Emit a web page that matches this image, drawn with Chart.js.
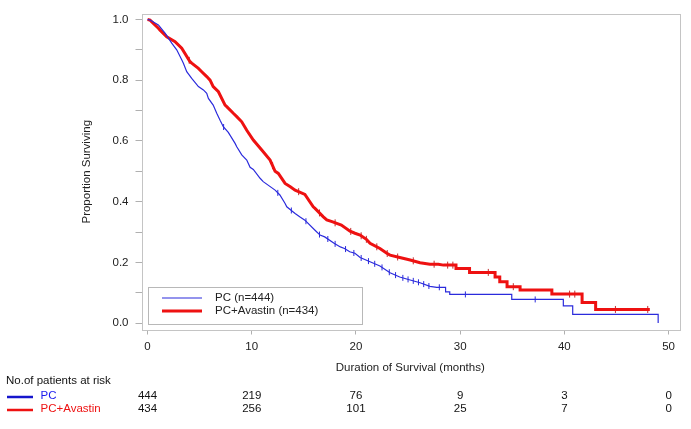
<!DOCTYPE html>
<html>
<head>
<meta charset="utf-8">
<script src="https://cdn.jsdelivr.net/npm/chart.js@4"></script>
<style>
html, body { margin: 0; padding: 0; background: #fff; }
#survChart { display: block; }
</style>
</head>
<body>
<canvas id="survChart" width="691" height="429"></canvas>
<script>
// Kaplan-Meier curves (a repeated time = vertical drop)
var pcTime = [0, 0.24, 1.04, 1.68, 2.32, 2.8, 3.28, 3.44, 3.76, 4.24, 4.88, 5.36, 5.68, 5.84, 6.3, 6.64, 6.96, 7.27, 7.75,
    8.4, 8.56, 9.04, 9.52, 9.84, 10.15, 10.8, 11.1, 12.24, 12.7, 13.2, 13.36, 14.16, 14.6, 15.1, 16.07, 16.55, 17.0,
    17.9, 18.5, 18.9, 19.4, 19.9, 20.4, 21.35, 22.3, 23.27, 24.2, 25.2, 26.15, 27.1, 27.75, 28.6, 28.6, 29.0, 29.0,
    34.95, 34.95, 39.9, 39.9, 40.8, 40.8, 49.0, 49.0];
var pcSurv = [1, 0.998, 0.982, 0.955, 0.922, 0.9, 0.867, 0.856, 0.828, 0.806, 0.779, 0.768, 0.757, 0.74, 0.718, 0.691, 0.668, 0.647, 0.628,
    0.592, 0.581, 0.554, 0.537, 0.513, 0.506, 0.477, 0.466, 0.438, 0.422, 0.394, 0.383, 0.361, 0.35, 0.339, 0.306, 0.29, 0.284,
    0.263, 0.251, 0.246, 0.235, 0.23, 0.216, 0.202, 0.188, 0.166, 0.152, 0.142, 0.133, 0.121, 0.118, 0.118, 0.103, 0.103, 0.0945,
    0.0945, 0.078, 0.078, 0.057, 0.057, 0.029, 0.029, 0];
var pcCensor = [7.3, 12.5, 13.8, 15.2, 16.5, 17.3, 18, 19, 19.8, 20.5, 21.2, 21.8, 22.5, 23.2, 23.8, 24.5,
    25, 25.5, 26, 26.5, 27, 28, 30.5, 37.2];

var avTime = [0, 0.24, 1.04, 1.2, 1.84, 2.64, 3.28, 4.08, 4.24, 4.88, 5.2, 5.68, 6.0, 6.3, 6.8, 7.44, 7.6, 8.23, 8.56,
    9.04, 9.52, 10.15, 10.96, 11.76, 12.24, 12.55, 13.2, 13.7, 14.16, 15.1, 15.9, 16.07, 16.87, 17.2, 17.7, 18.6,
    19.43, 19.9, 20.4, 21.0, 21.35, 22.3, 22.96, 23.27, 24.2, 25.2, 26.15, 27.1, 27.9, 28.4, 29.6, 29.6, 30.9, 30.9,
    33.35, 33.35, 33.8, 33.8, 34.5, 34.5, 35.75, 35.75, 38.8, 38.8, 41.7, 41.7, 43.0, 43.0, 48.2];
var avSurv = [1, 0.998, 0.971, 0.965, 0.943, 0.927, 0.905, 0.861, 0.856, 0.839, 0.828, 0.812, 0.8, 0.779, 0.762, 0.718, 0.713, 0.691, 0.68,
    0.663, 0.635, 0.603, 0.57, 0.537, 0.5, 0.493, 0.46, 0.449, 0.438, 0.424, 0.383, 0.378, 0.35, 0.34, 0.334, 0.323,
    0.303, 0.296, 0.29, 0.276, 0.263, 0.246, 0.23, 0.224, 0.216, 0.208, 0.199, 0.194, 0.194, 0.191, 0.191, 0.18, 0.18, 0.167,
    0.167, 0.152, 0.152, 0.136, 0.136, 0.12, 0.12, 0.109, 0.109, 0.0955, 0.0955, 0.068, 0.068, 0.045, 0.045];
var avCensor = [4, 12, 14.5, 16.5, 18, 19.5, 20.5, 21, 22, 23, 24, 25.5, 27.5, 28.8, 29.3, 32.7, 35.1,
    40.5, 41, 44.9, 48];

var xTicks = [0, 10, 20, 30, 40, 50];
var yTicks = [0, 0.1, 0.2, 0.3, 0.4, 0.5, 0.6, 0.7, 0.8, 0.9, 1.0];

// patients at risk table
var riskTimes = [0, 10, 20, 30, 40, 50];
var riskPC = [444, 219, 76, 9, 3, 0];
var riskAv = [434, 256, 101, 25, 7, 0];

var seriesNames = ['PC (n=444)', 'PC+Avastin (n=434)'];
var riskNames = ['PC', 'PC+Avastin'];

var FONT = '"Liberation Sans", Arial, sans-serif';
var BLUE = '#2b2bdc';
var RED = '#ee1111';

var toPoints = function (times, surv) {
    return times.map(function (t, i) { return { x: t, y: surv[i] }; });
};

// value of the traced curve at time t (last drop wins at a repeated time)
var survAt = function (times, surv, t) {
    var s = surv[0];
    for (var i = 0; i < times.length - 1; i++) {
        if (t >= times[i] && t <= times[i + 1]) {
            if (times[i + 1] === times[i]) { return surv[i + 1]; }
            var f = (t - times[i]) / (times[i + 1] - times[i]);
            return surv[i] + f * (surv[i + 1] - surv[i]);
        }
        if (times[i] <= t) { s = surv[i]; }
    }
    return s;
};

var censorPoints = function (censor, times, surv) {
    return censor.map(function (t) { return { x: t, y: survAt(times, surv, t) }; });
};

var framePlugin = {
    id: 'frame',
    beforeDatasetsDraw: function (chart) {
        var a = chart.chartArea;
        var ctx = chart.ctx;
        ctx.save();
        ctx.strokeStyle = '#c4c4c4';
        ctx.lineWidth = 1;
        ctx.strokeRect(Math.round(a.left) + 0.5, Math.round(a.top) + 0.5,
            Math.round(a.right - a.left), Math.round(a.bottom - a.top));
        ctx.restore();
    }
};

var legendPlugin = {
    id: 'kmLegend',
    afterDatasetsDraw: function (chart) {
        var a = chart.chartArea;
        var ctx = chart.ctx;
        var left = a.left + 6.5;
        var bottom = a.bottom - 5.5;
        var top = bottom - 37;
        ctx.save();
        ctx.fillStyle = '#fff';
        ctx.fillRect(left, top, 214.5, 37);
        ctx.strokeStyle = '#b8b8b8';
        ctx.lineWidth = 1;
        ctx.strokeRect(Math.round(left) + 0.5, Math.round(top) + 0.5, 214, 37);
        ctx.font = '11.5px ' + FONT;
        ctx.textBaseline = 'middle';
        ctx.fillStyle = '#222';
        var rows = [
            { y: top + 11, color: BLUE, width: 1.2 },
            { y: top + 24, color: RED, width: 3 }
        ];
        rows.forEach(function (r, i) {
            ctx.strokeStyle = r.color;
            ctx.lineWidth = r.width;
            ctx.beginPath();
            ctx.moveTo(left + 14, r.y);
            ctx.lineTo(left + 54, r.y);
            ctx.stroke();
            ctx.fillText(seriesNames[i], left + 67, r.y);
        });
        ctx.restore();
    }
};

var riskPlugin = {
    id: 'riskTable',
    afterDraw: function (chart) {
        var xs = chart.scales.x;
        var ctx = chart.ctx;
        ctx.save();
        ctx.font = '11.5px ' + FONT;
        ctx.textBaseline = 'middle';
        ctx.fillStyle = '#111';
        ctx.textAlign = 'left';
        ctx.fillText('No.of patients at risk', 6, 381);
        var rows = [
            { y: 396, color: '#1515cc', label: riskNames[0], values: riskPC, text: '#1a1aee' },
            { y: 409, color: '#ee1111', label: riskNames[1], values: riskAv, text: '#ee1111' }
        ];
        rows.forEach(function (r) {
            ctx.strokeStyle = r.color;
            ctx.lineWidth = 2.5;
            ctx.beginPath();
            ctx.moveTo(7, r.y + 1);
            ctx.lineTo(33, r.y + 1);
            ctx.stroke();
            ctx.textAlign = 'left';
            ctx.fillStyle = r.text;
            ctx.fillText(r.label, 40.5, r.y);
            ctx.textAlign = 'center';
            ctx.fillStyle = '#111';
            r.values.forEach(function (v, i) {
                ctx.fillText(String(v), xs.getPixelForValue(riskTimes[i]), r.y);
            });
        });
        ctx.restore();
    }
};

var ctxD = document.getElementById('survChart').getContext('2d');
var survChart = new Chart(ctxD, {
    type: 'line',
    data: {
        datasets: [
            {
                label: seriesNames[0],
                data: toPoints(pcTime, pcSurv),
                borderColor: BLUE,
                borderWidth: 1.2,
                borderJoinStyle: 'miter',
                tension: 0,
                pointRadius: 0,
                fill: false
            },
            {
                label: seriesNames[1],
                data: toPoints(avTime, avSurv),
                borderColor: RED,
                borderWidth: 3,
                borderJoinStyle: 'miter',
                tension: 0,
                pointRadius: 0,
                fill: false
            },
            {
                label: 'PC censored',
                data: censorPoints(pcCensor, pcTime, pcSurv),
                showLine: false,
                pointStyle: 'line',
                rotation: 90,
                pointRadius: 3,
                borderColor: BLUE,
                borderWidth: 1
            },
            {
                label: 'PC+Avastin censored',
                data: censorPoints(avCensor, avTime, avSurv),
                showLine: false,
                pointStyle: 'line',
                rotation: 90,
                pointRadius: 3.5,
                borderColor: '#c03030',
                borderWidth: 1
            }
        ]
    },
    options: {
        responsive: false,
        animation: false,
        events: [],
        layout: {
            padding: { left: 0, right: 12, top: 14, bottom: 54.5 }
        },
        scales: {
            x: {
                type: 'linear',
                min: -0.58,
                max: 51,
                afterBuildTicks: function (scale) {
                    scale.ticks = xTicks.map(function (v) { return { value: v }; });
                },
                afterFit: function (scale) { scale.height = 45; },
                border: { display: false },
                grid: { drawOnChartArea: false, drawTicks: true, tickLength: 5, color: '#b0b0b0' },
                ticks: {
                    padding: 5,
                    maxRotation: 0,
                    color: '#222',
                    font: { family: FONT, size: 11.5 },
                    callback: function (v) { return String(v); }
                },
                title: {
                    display: true,
                    text: 'Duration of Survival (months)',
                    color: '#222',
                    font: { family: FONT, size: 11.5 },
                    padding: { top: 0, bottom: 0 }
                }
            },
            y: {
                type: 'linear',
                min: -0.021,
                max: 1.018,
                afterBuildTicks: function (scale) {
                    scale.ticks = yTicks.map(function (v) { return { value: v }; });
                },
                afterFit: function (scale) { scale.width = 141.5; },
                border: { display: false },
                grid: { drawOnChartArea: false, drawTicks: true, tickLength: 6, color: '#b0b0b0' },
                ticks: {
                    padding: 7,
                    color: '#222',
                    font: { family: FONT, size: 11.5 },
                    callback: function (v) {
                        var tenth = Math.round(v * 10);
                        return tenth % 2 === 0 ? (tenth / 10).toFixed(1) : '';
                    }
                },
                title: {
                    display: true,
                    text: 'Proportion Surviving',
                    color: '#222',
                    font: { family: FONT, size: 11.5 },
                    padding: { top: 80, bottom: 0 }
                }
            }
        },
        plugins: {
            legend: { display: false },
            tooltip: { enabled: false }
        }
    },
    plugins: [framePlugin, legendPlugin, riskPlugin]
});
</script>
</body>
</html>
